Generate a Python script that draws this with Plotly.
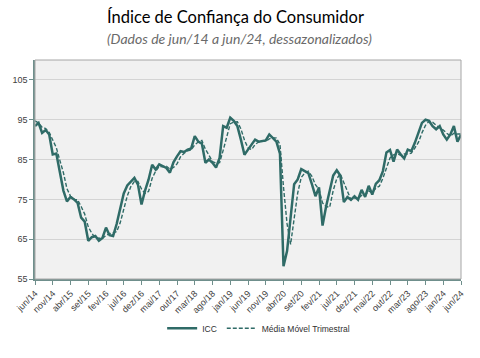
import plotly.graph_objects as go

month_names = ["jan", "fev", "mar", "abr", "mai", "jun", "jul", "ago", "set", "out", "nov", "dez"]
months = []
for k in range(121):
    m = (5 + k) % 12
    y = 14 + (5 + k) // 12
    months.append(f"{month_names[m]}/{y:02d}")

icc = [93.4, 94.2, 91.7, 92.4, 91.3, 86.3, 86.5, 81.5, 77.2, 74.5,
       75.6, 75.0, 74.1, 70.4, 69.4, 64.6, 65.5, 65.8, 64.6, 65.3,
       67.9, 66.0, 65.8, 68.8, 72.8, 76.5, 78.5, 79.5, 80.4, 78.7,
       73.7, 77.2, 80.0, 83.7, 82.5, 83.8, 83.3, 82.9, 81.7, 84.3,
       85.8, 87.1, 86.9, 87.5, 87.8, 90.9, 89.5, 89.0, 84.2, 85.0,
       84.2, 83.0, 85.4, 93.4, 93.0, 95.5, 94.7, 93.4, 90.0, 86.2,
       87.5, 88.8, 90.0, 89.5, 89.6, 89.8, 91.3, 90.5, 89.5, 86.5,
       58.2, 62.0, 71.0, 78.8, 80.0, 82.6, 82.1, 81.6, 78.8, 75.8,
       78.0, 68.4, 73.2, 77.4, 81.0, 82.3, 81.0, 74.3, 75.6, 74.9,
       75.8, 74.9, 77.4, 75.6, 78.4, 76.2, 78.9, 79.8, 82.1, 86.8,
       87.4, 84.5, 87.5, 86.3, 85.3, 87.5, 87.1, 89.2, 91.7, 94.2,
       95.0, 94.7, 93.4, 92.6, 93.4, 91.3, 90.0, 91.3, 93.4, 89.5,
       91.2]

mmt = [94.7, 94.2, 93.1, 92.8, 91.8, 90.0, 88.0, 84.8, 81.7, 77.7,
       75.8, 75.0, 74.9, 73.2, 71.3, 68.1, 66.5, 65.3, 65.3, 65.2,
       65.9, 66.4, 66.6, 66.9, 69.1, 72.7, 75.9, 78.2, 79.5, 79.5,
       77.6, 76.5, 77.0, 80.3, 82.1, 83.3, 83.2, 83.3, 82.6, 83.0,
       83.9, 85.7, 86.6, 87.2, 87.4, 88.7, 89.4, 89.8, 87.6, 86.1,
       84.5, 84.1, 84.2, 87.3, 90.6, 94.0, 94.4, 94.5, 92.7, 89.9,
       87.9, 87.5, 88.8, 89.4, 89.7, 89.6, 90.2, 90.5, 90.4, 88.8,
       78.1, 68.9, 63.7, 70.6, 76.6, 80.5, 81.6, 82.1, 80.8, 78.7,
       77.5, 74.1, 73.2, 73.0, 77.2, 80.2, 81.4, 79.2, 77.0, 74.9,
       75.4, 75.2, 76.0, 76.0, 77.1, 76.7, 77.8, 78.3, 80.3, 82.9,
       85.4, 86.2, 86.5, 86.1, 86.4, 86.4, 86.6, 87.9, 89.3, 91.7,
       93.6, 94.6, 94.4, 93.6, 93.1, 92.4, 91.6, 90.9, 91.6, 91.4,
       91.4]

tick_labels = months[::5]
y_ticks = [55, 65, 75, 85, 95, 105]

color = "#2f6b67"
tick_font = dict(family="Liberation Sans, Arial, sans-serif", size=9, color="#404040")

fig = go.Figure()
fig.add_trace(go.Scatter(x=months, y=icc, mode="lines", name="ICC",
                         line=dict(color=color, width=2.5)))
fig.add_trace(go.Scatter(x=months, y=mmt, mode="lines", name="Média Móvel Trimestral",
                         line=dict(color=color, width=1.4, dash="4px,2px")))

fig.update_layout(
    width=480, height=358,
    margin=dict(l=32, r=19, t=60, b=79),
    paper_bgcolor="white",
    plot_bgcolor="#f1f1f1",
    showlegend=True,
    legend=dict(orientation="h", x=0.525, xanchor="center", y=-0.225, yanchor="middle",
                font=dict(family="Liberation Sans, Arial, sans-serif", size=8.5, color="#303030"),
                bgcolor="rgba(0,0,0,0)", itemwidth=30, tracegroupgap=0),
    annotations=[
        dict(text="Índice de Confiança do Consumidor", xref="paper", yref="paper",
             x=0.47, y=1.0, xanchor="center", yanchor="bottom", yshift=31, showarrow=False,
             font=dict(family="Lato, Carlito, sans-serif", size=16.5, color="black")),
        dict(text="<i>(Dados de jun/14 a jun/24, dessazonalizados)</i>", xref="paper", yref="paper",
             x=0.48, y=1.0, xanchor="center", yanchor="bottom", yshift=11, showarrow=False,
             font=dict(family="Lato, Carlito, sans-serif", size=14, color="#6a6a6a")),
    ],
    shapes=[dict(type="rect", xref="paper", yref="paper", x0=0, y0=0, x1=1, y1=1,
                 line=dict(color="#a6a6a6", width=1), layer="above")],
)

fig.update_xaxes(
    type="category", range=[0, 120],
    tickmode="array", tickvals=tick_labels, ticktext=tick_labels,
    tickangle=-45, tickfont=tick_font,
    ticks="outside", ticklen=4, tickcolor="#6f8f8c",
    showgrid=False, showline=True, linecolor="#6f8f8c", linewidth=1.5,
    zeroline=False,
)
fig.update_yaxes(
    range=[55, 110], tickvals=y_ticks, tickfont=tick_font,
    ticks="outside", ticklen=4, tickcolor="#6f8f8c",
    showgrid=True, gridcolor="#d4d4d4", gridwidth=1,
    showline=True, linecolor="#6f8f8c", linewidth=1.5, zeroline=False,
)

fig.write_html("out.html", config={"displayModeBar": False},
               post_script="document.body.style.margin='0';document.body.style.padding='0';")
